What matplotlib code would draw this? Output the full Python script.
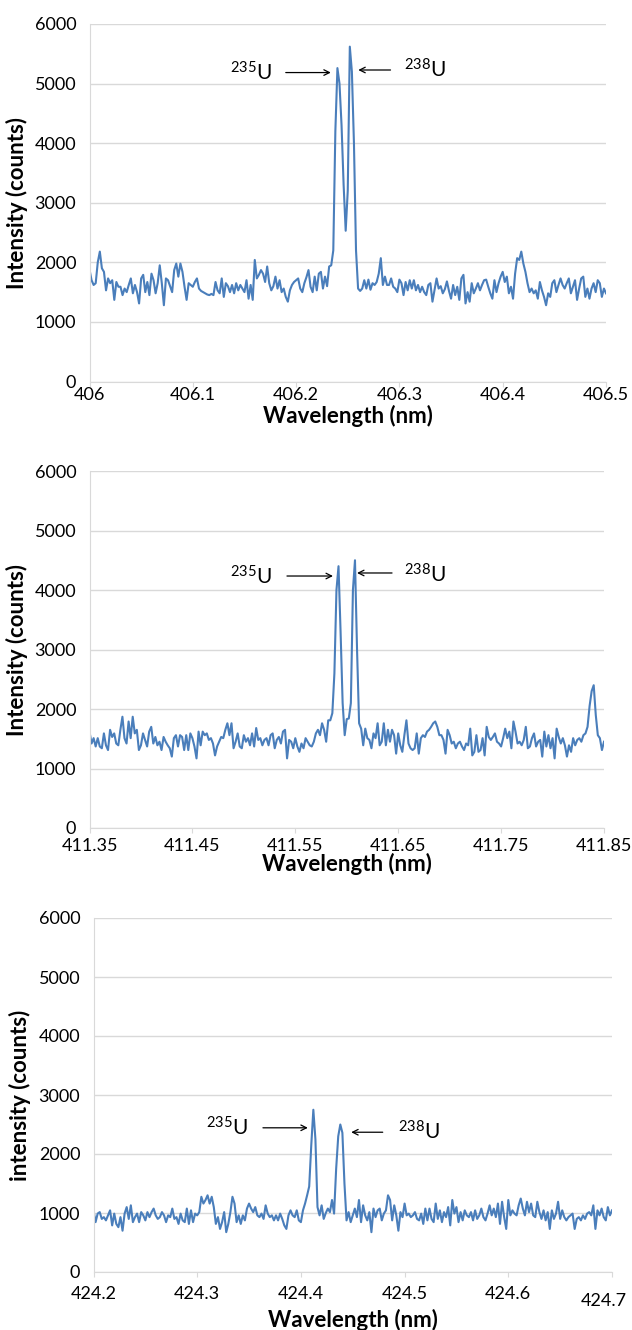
import numpy as np
import matplotlib
matplotlib.use("Agg")
import matplotlib.pyplot as plt

wl1 = np.linspace(406.0, 406.5, 251)
counts1 = [
    1880, 1700, 1620, 1650, 2000, 2180, 1900, 1840, 1530, 1730,
    1650, 1700, 1370, 1670, 1590, 1590, 1450, 1560, 1500, 1620,
    1730, 1480, 1620, 1500, 1310, 1730, 1790, 1500, 1670, 1450,
    1810, 1700, 1480, 1650, 1950, 1650, 1280, 1730, 1700, 1600,
    1500, 1870, 1980, 1760, 1980, 1840, 1590, 1370, 1650, 1620,
    1590, 1670, 1730, 1560, 1520, 1500, 1480, 1460, 1450, 1470,
    1450, 1670, 1530, 1480, 1730, 1420, 1650, 1600, 1500, 1620,
    1480, 1650, 1530, 1620, 1560, 1500, 1700, 1390, 1620, 1370,
    2040, 1730, 1790, 1870, 1810, 1670, 1930, 1650, 1530, 1600,
    1760, 1560, 1700, 1500, 1560, 1420, 1340, 1530, 1620, 1670,
    1700, 1730, 1560, 1500, 1650, 1750, 1870, 1590, 1500, 1760,
    1530, 1810, 1840, 1560, 1760, 1600, 1930,
    1950, 2200, 4200, 5260, 5000, 4300, 3300, 2530, 3200, 5620,
    5200, 4000, 2200,
    1560, 1520, 1560, 1700, 1560, 1710, 1540, 1650, 1620, 1670,
    1810, 2070, 1620, 1760, 1620, 1620, 1730, 1590, 1560, 1500,
    1710, 1650, 1450, 1670, 1530, 1700, 1560, 1700, 1530, 1620,
    1500, 1590, 1500, 1450, 1620, 1650, 1340, 1530, 1730, 1560,
    1600, 1480, 1550, 1680, 1520,
    1390, 1620, 1450, 1590, 1370, 1730, 1790, 1310, 1500, 1340,
    1650, 1480, 1560, 1650, 1530, 1620, 1700, 1710, 1590, 1480,
    1390, 1700, 1500, 1650, 1760, 1840, 1670, 1760, 1480, 1590,
    1390, 1810, 2070, 2040, 2180, 1980, 1840, 1650, 1500, 1560,
    1480, 1530, 1390, 1670, 1530, 1420, 1280, 1480, 1420, 1650,
    1700, 1500, 1620, 1730, 1620, 1560, 1650, 1730, 1480, 1590,
    1700, 1370, 1560, 1730, 1760, 1420, 1560, 1390, 1560, 1650,
    1500, 1700, 1650, 1420, 1560, 1480,
]

wl2 = np.linspace(411.35, 411.85, 251)
counts2 = [
    1620, 1420, 1510, 1370, 1510, 1370, 1340, 1590, 1390, 1310,
    1650, 1530, 1590, 1420, 1390, 1650, 1870, 1510, 1420, 1790,
    1510, 1870, 1590, 1650, 1310, 1390, 1590, 1480, 1370, 1620,
    1700, 1420, 1530, 1390, 1450, 1310, 1530, 1450, 1390, 1340,
    1200, 1510, 1560, 1370, 1560, 1530, 1310, 1560, 1310, 1590,
    1510, 1370, 1170, 1620, 1390, 1620, 1560, 1590, 1480, 1510,
    1420, 1220, 1370, 1450, 1530, 1510, 1650, 1760, 1560, 1760,
    1340, 1450, 1590, 1370, 1340, 1560, 1450, 1510, 1390, 1590,
    1370, 1680, 1480, 1510, 1390, 1480, 1510, 1390, 1560, 1590,
    1340, 1480, 1530, 1420, 1620, 1650, 1170, 1480, 1450, 1340,
    1510, 1370, 1280, 1420, 1340, 1510, 1450, 1390, 1370, 1450,
    1590, 1650, 1560, 1760, 1650, 1450, 1810, 1810,
    1930, 2600, 4000, 4400, 3300, 2100, 1560, 1830, 1840, 2100,
    4000, 4500, 3000, 1760,
    1670, 1390, 1670, 1510, 1480, 1340, 1590, 1510, 1760, 1390,
    1450, 1760, 1390, 1650, 1450, 1650, 1560, 1250, 1590, 1390,
    1280, 1560, 1810, 1420, 1340, 1310, 1340, 1590, 1250, 1510,
    1560, 1530, 1620, 1650, 1700, 1760, 1790, 1700, 1560, 1560,
    1480, 1250, 1650, 1560, 1420, 1450, 1340, 1420, 1450, 1370,
    1310, 1420, 1390, 1670, 1220, 1280, 1560, 1280, 1310, 1510,
    1220, 1700, 1530, 1480, 1530, 1590, 1450, 1420, 1370, 1510,
    1670, 1510, 1620, 1340, 1790, 1620, 1420, 1450, 1390, 1480,
    1700, 1340, 1370, 1510, 1590, 1370, 1450, 1480, 1200, 1620,
    1370, 1560, 1340, 1510, 1170, 1670, 1530, 1420, 1510, 1390,
    1200, 1390, 1280, 1510, 1390, 1480, 1510, 1450, 1560, 1590,
    1700, 2050, 2300, 2400, 1900, 1560, 1510, 1310, 1450,
]

wl3 = np.linspace(424.2, 424.7, 251)
counts3 = [
    1045, 845, 990, 1015, 900, 930, 875, 960, 1045, 790,
    990, 815, 760, 930, 700, 990, 1100, 900, 1130, 845,
    930, 990, 845, 1015, 960, 875, 1015, 930, 1015, 1075,
    960, 900, 930, 1015, 960, 845, 960, 930, 1075, 900,
    930, 815, 990, 875, 845, 1075, 815, 1045, 845, 990,
    960, 1015, 1275, 1160, 1220, 1300, 1160, 1275, 1100, 815,
    930, 730, 845, 1015, 675, 815, 1015, 1275, 1160, 845,
    960, 815, 960, 875, 1075, 1160, 1075, 1015, 1100, 960,
    930, 990, 900, 1130, 990, 930, 960, 875, 960, 875,
    990, 900, 790, 730, 960, 1045, 960, 930, 1045, 875,
    845, 1045,
    1160, 1300, 1450, 2150, 2750, 2250, 1100, 960, 1130, 900,
    1000, 1075, 1015, 1220, 990, 1750, 2300, 2500, 2360, 1500,
    875, 1015, 845, 960, 1075, 930, 1220, 845, 1130, 960,
    875, 1015, 675, 1075, 930, 1045, 1075, 875, 990, 1045,
    1300, 1220, 875, 1130, 960, 700, 1015, 930, 1160, 960,
    990, 930, 960, 1015, 900, 875, 990, 815, 1075, 875,
    1075, 900, 845, 1160, 900, 1045, 845, 1015, 930, 1100,
    790, 1220, 990, 1100, 845, 1015, 875, 1045, 960, 930,
    1015, 875, 1045, 900, 960, 1075, 930, 875, 990, 1130,
    960, 1075, 930, 1160, 815, 1190, 930, 730, 1220, 960,
    1045, 990, 960, 1130, 1245, 1075, 960, 1190, 1015, 1160,
    960, 930, 1190, 1015, 900, 1045, 875, 1015, 730, 1045,
    900, 990, 1190, 900, 1045, 930, 875, 930, 960, 990,
    730, 900, 930, 875, 960, 900, 990, 1015, 960, 1130,
    730, 1045, 960, 1075, 930, 875, 1100, 960, 1045,
]

ticks1 = [406.0, 406.1, 406.2, 406.3, 406.4, 406.5]
labels1 = ["406", "406.1", "406.2", "406.3", "406.4", "406.5"]
ticks2 = [411.35, 411.45, 411.55, 411.65, 411.75, 411.85]
labels2 = ["411.35", "411.45", "411.55", "411.65", "411.75", "411.85"]
ticks3 = [424.2, 424.3, 424.4, 424.5, 424.6, 424.7]
labels3 = ["424.2", "424.3", "424.4", "424.5", "424.6", "424.7"]
yticks = [0, 1000, 2000, 3000, 4000, 5000, 6000]

# isotope labels: (text x, text y, arrow tail x, arrow head x, arrow y)
iso1 = {"235": (406.176, 5060, 406.190, 406.2336, 5185),
        "238": (406.3042, 5100, 406.2914, 406.2602, 5228)}
iso2 = {"235": (411.5274, 4100, 411.5419, 411.5866, 4235),
        "238": (411.6556, 4134, 411.6440, 411.6100, 4286)}
iso3 = {"235": (424.349, 2312, 424.3634, 424.4067, 2444),
        "238": (424.4934, 2244, 424.4789, 424.4485, 2369)}

BLUE = "#4a7ebb"
GRID = "#d9d9d9"
plt.rcParams.update({"font.family": "Lato", "mathtext.fontset": "custom",
                     "mathtext.rm": "Lato", "mathtext.it": "Lato:italic",
                     "mathtext.bf": "Lato:bold"})

W, H = 632, 1330
fig = plt.figure(figsize=(W / 100, H / 100), dpi=100, facecolor="white")


def px_box(left, right, top, bottom):
    return [left / W, 1 - bottom / H, (right - left) / W, (bottom - top) / H]


def draw(box, wl, counts, ticks, labels, iso, ylabel, xpad, xlab_y):
    ax = fig.add_axes(box)
    ax.plot(wl, counts, color=BLUE, lw=1.5)
    ax.set_xlim(ticks[0], ticks[-1])
    ax.set_ylim(yticks[0], yticks[-1])
    ax.set_yticks(yticks)
    ax.set_xticks(ticks)
    ax.set_xticklabels(labels)
    ax.grid(axis="y", color=GRID, lw=1)
    ax.set_axisbelow(True)
    for s in ("top", "right"):
        ax.spines[s].set_visible(False)
    ax.spines["left"].set_color(GRID)
    ax.spines["bottom"].set_color(GRID)
    ax.tick_params(axis="y", length=0, pad=9.5, labelsize=13)
    ax.tick_params(axis="x", length=3.6, color=GRID, pad=xpad, labelsize=13)
    ax.set_ylabel(ylabel, fontsize=16, fontweight="bold")
    ax.yaxis.set_label_coords(-0.12, 0.5)
    ax.set_xlabel("Wavelength (nm)", fontsize=16, fontweight="bold")
    ax.xaxis.set_label_coords(0.5, xlab_y)
    for iso, (tx, ty, ax0, ax1, ay) in iso.items():
        ha = "right" if ax1 > ax0 else "left"
        ax.text(tx, ty, r"$^{%s}$U" % iso, fontsize=15, ha=ha, va="baseline")
        ax.annotate("", xy=(ax1, ay), xytext=(ax0, ay),
                    arrowprops=dict(arrowstyle="->", lw=0.9, color="black",
                                    shrinkA=0, shrinkB=0))
    return ax


ax1 = draw(px_box(89.5, 606, 24, 381.5), wl1, counts1, ticks1, labels1, iso1,
           "Intensity (counts)", 0.7, -0.066)
ax2 = draw(px_box(89.5, 604, 471, 828), wl2, counts2, ticks2, labels2, iso2,
           "Intensity (counts)", 3.5, -0.07)
ax3 = draw(px_box(93.5, 612, 918, 1272), wl3, counts3, ticks3, labels3[:-1] + [""], iso3,
           "intensity (counts)", 6.5, -0.105)
# last tick label of the bottom panel sits lower and to the left
ax3.annotate(labels3[-1], xy=(ticks3[-1], 0), xycoords=("data", "axes fraction"),
             xytext=(-5.8, -20.9), textcoords="offset points", ha="center", va="center",
             fontsize=13)

fig.savefig("out.png", dpi=100, facecolor="white")
